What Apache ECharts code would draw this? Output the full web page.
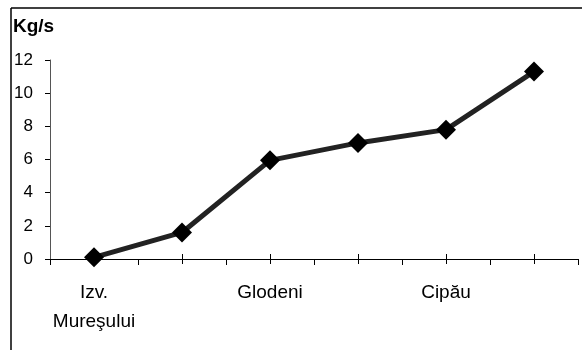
<!DOCTYPE html>
<html>
<head>
<meta charset="utf-8">
<script src="https://cdn.jsdelivr.net/npm/echarts@6/dist/echarts.min.js"></script>
<style>
html,body{margin:0;padding:0;background:#fff;}
#c{width:582px;height:350px;}
</style>
</head>
<body>
<div id="c"></div>
<script>
var categories = ["Izv.\nMureşului", "", "Glodeni", "", "Cipău", ""];
var values = [0.1, 1.6, 5.95, 7.0, 7.8, 11.3];
var yTicks = { min: 0, max: 12, interval: 2 };
var unitLabel = "Kg/s";

var FONT = "Liberation Sans";
var chart = echarts.init(document.getElementById('c'), null, { renderer: 'canvas' });
chart.setOption({
  animation: false,
  backgroundColor: '#fff',
  grid: { left: 50, right: 4, top: 60, bottom: 91, containLabel: false },
  graphic: [
    { type: 'line', shape: { x1: 11, y1: 8, x2: 582, y2: 8 }, style: { stroke: '#000', lineWidth: 1.5 } },
    { type: 'line', shape: { x1: 11, y1: 8, x2: 11, y2: 350 }, style: { stroke: '#000', lineWidth: 1.5 } },
    { type: 'text', left: 13, top: 17, style: { text: unitLabel, font: 'bold 19px "Liberation Sans"', fill: '#000' } }
  ],
  xAxis: [
    {
      type: 'category', data: categories, boundaryGap: true,
      axisLine: { show: true, lineStyle: { color: '#000', width: 1 } },
      axisTick: { show: true, length: 6, lineStyle: { color: '#000' } },
      axisLabel: { interval: 0, color: '#000', fontFamily: FONT, fontSize: 19, lineHeight: 29, margin: 19 },
      splitLine: { show: false }
    },
    {
      type: 'category', data: categories, boundaryGap: true, position: 'bottom', offset: -5,
      axisLine: { show: false },
      axisTick: { show: true, alignWithLabel: true, interval: 0, length: 10, lineStyle: { color: '#000' } },
      axisLabel: { show: false },
      splitLine: { show: false }
    }
  ],
  yAxis: {
    type: 'value', min: yTicks.min, max: yTicks.max, interval: yTicks.interval,
    axisLine: { show: true, lineStyle: { color: '#555', width: 1 } },
    axisTick: { show: true, length: 5, lineStyle: { color: '#000' } },
    axisLabel: { color: '#000', fontFamily: FONT, fontSize: 17, margin: 17 },
    splitLine: { show: false }
  },
  series: [{
    type: 'line', data: values, xAxisIndex: 0,
    symbol: 'diamond', symbolSize: 20,
    lineStyle: { color: '#222', width: 5 },
    itemStyle: { color: '#000' }
  }]
});
</script>
</body>
</html>
